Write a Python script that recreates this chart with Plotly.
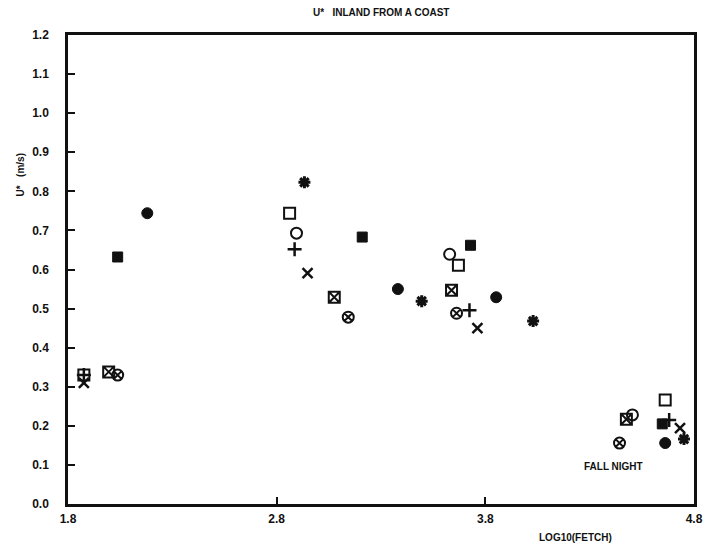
import plotly.graph_objects as go

# data: (log10 fetch, u*) per marker type
open_square_x = [1.876, 2.862, 3.671, 4.662]
open_square_y = [0.33, 0.744, 0.611, 0.266]
open_circle_x = [2.895, 3.629, 4.505]
open_circle_y = [0.693, 0.639, 0.228]
plus_x = [1.876, 2.886, 3.724, 4.681]
plus_y = [0.33, 0.652, 0.496, 0.215]
cross_x = [1.876, 2.948, 3.762, 4.733]
cross_y = [0.31, 0.591, 0.45, 0.194]
sqx_x = [1.995, 3.076, 3.638, 4.476]
sqx_y = [0.338, 0.529, 0.547, 0.217]
circx_x = [2.038, 3.143, 3.662, 4.443]
circx_y = [0.33, 0.478, 0.488, 0.156]
fsq_x = [2.038, 3.21, 3.729, 4.648]
fsq_y = [0.632, 0.683, 0.662, 0.205]
fcirc_x = [2.18, 3.381, 3.852, 4.662]
fcirc_y = [0.744, 0.55, 0.529, 0.156]
star_x = [2.933, 3.495, 4.029, 4.752]
star_y = [0.823, 0.519, 0.468, 0.166]

x_ticks = [1.8, 2.8, 3.8, 4.8]
y_ticks = [0.0, 0.1, 0.2, 0.3, 0.4, 0.5, 0.6, 0.7, 0.8, 0.9, 1.0, 1.1, 1.2]

series = [
    (open_square_x, open_square_y, "square-open", 11, 2),
    (open_circle_x, open_circle_y, "circle-open", 11, 2),
    (plus_x, plus_y, "cross-thin-open", 10, 2.5),
    (cross_x, cross_y, "x-thin-open", 10, 2.5),
    (sqx_x, sqx_y, "square-x-open", 11, 2),
    (circx_x, circx_y, "circle-x-open", 11, 2),
    (fsq_x, fsq_y, "square", 10, 1),
    (fcirc_x, fcirc_y, "circle", 11, 1),
    (star_x, star_y, "asterisk-open", 10, 3),
]

fig = go.Figure()
for xs, ys, sym, size, lw in series:
    fig.add_trace(go.Scatter(
        x=xs, y=ys, mode="markers",
        marker=dict(symbol=sym, size=size, color="#111111",
                    line=dict(color="#111111", width=lw)),
        showlegend=False, hoverinfo="skip"))

FAM = "Liberation Sans, Arial"
tickfont = dict(family=FAM, size=12, color="#111111", weight="bold")
labfont = dict(family=FAM, size=10, color="#111111", weight="bold")

fig.update_layout(
    width=715, height=548,
    margin=dict(l=68, r=16, t=35, b=44),
    paper_bgcolor="white", plot_bgcolor="white",
    font=dict(family=FAM, size=11, color="#111111"),
    xaxis=dict(range=[1.8, 4.8], tickvals=x_ticks,
               ticktext=[f"{v:.1f}" for v in x_ticks],
               showgrid=False, zeroline=False,
               showline=True, mirror=True, linecolor="#111111", linewidth=2.5,
               ticks="inside", ticklen=7, tickwidth=1.5, tickcolor="#111111",
               ticklabelstandoff=2, tickfont=tickfont),
    yaxis=dict(range=[0, 1.2], tickvals=y_ticks,
               ticktext=[f"{v:.1f}" for v in y_ticks],
               showgrid=False, zeroline=False,
               showline=True, mirror=True, linecolor="#111111", linewidth=2.5,
               ticks="inside", ticklen=7, tickwidth=1.5, tickcolor="#111111",
               ticklabelstandoff=14, tickfont=tickfont),
    annotations=[
        dict(text="U*   INLAND FROM A COAST", xref="paper", yref="paper",
             x=(383 - 68) / 631, y=1 + (35 - 13) / 469, showarrow=False,
             xanchor="center", yanchor="middle", font=labfont),
        dict(text="U*   (m/s)", xref="paper", yref="paper",
             x=(20 - 68) / 631, y=(504 - 175) / 469, textangle=-90, showarrow=False,
             xanchor="center", yanchor="middle", font=labfont),
        dict(text="LOG10(FETCH)", xref="paper", yref="paper",
             x=(580 - 68) / 631, y=-(537 - 504) / 469, showarrow=False,
             xanchor="center", yanchor="middle", font=labfont),
        dict(text="FALL NIGHT", x=4.414, y=0.097, showarrow=False,
             xanchor="center", yanchor="middle", font=labfont),
    ],
)

fig.write_html("out.html")
